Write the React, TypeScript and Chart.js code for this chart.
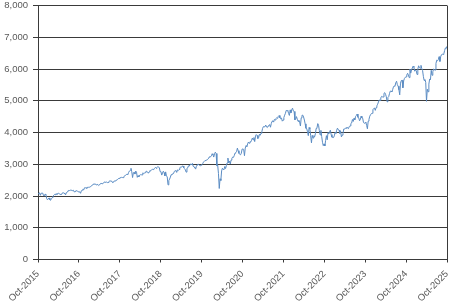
import React, { useEffect, useRef } from "react";
import { Chart, registerables } from "chart.js";

Chart.register(...registerables);

// Weekly S&P 500 closes, late Oct 2015 – early Oct 2025 (read/estimated from the picture)
const values2015: number[] = [2075, 2079, 2099, 2023, 2089, 2090, 2091, 2012, 2005, 2060, 2044];
const values2016: number[] = [
  1922, 1880, 1906, 1940, 1880, 1865, 1918, 1948, 1999, 2022, 2049, 2035, 2072, 2047, 2081, 2091, 2065,
  2057, 2046, 2052, 2099, 2099, 2096, 2071, 2037, 2103, 2130, 2162, 2175, 2173, 2183, 2184, 2184, 2169,
  2180, 2128, 2139, 2165, 2168, 2153, 2133, 2141, 2126, 2085, 2164, 2182, 2213, 2192, 2259, 2258, 2263, 2239,
];
const values2017: number[] = [
  2277, 2275, 2271, 2295, 2297, 2316, 2351, 2367, 2383, 2373, 2378, 2344, 2363, 2355, 2329, 2349, 2384,
  2399, 2391, 2382, 2416, 2439, 2432, 2433, 2438, 2423, 2425, 2459, 2473, 2472, 2477, 2441, 2426, 2443,
  2477, 2461, 2500, 2502, 2519, 2549, 2553, 2575, 2581, 2587, 2582, 2579, 2602, 2642, 2651, 2675, 2683, 2674,
];
const values2018: number[] = [
  2743, 2786, 2810, 2873, 2762, 2581, 2732, 2747, 2691, 2786, 2752, 2588, 2641, 2604, 2656, 2670, 2670,
  2663, 2728, 2713, 2721, 2735, 2779, 2780, 2755, 2718, 2760, 2801, 2801, 2819, 2840, 2833, 2850, 2875,
  2902, 2872, 2905, 2930, 2914, 2886, 2767, 2768, 2658, 2723, 2781, 2736, 2633, 2760, 2633, 2600, 2351, 2486,
];
const values2019: number[] = [
  2532, 2596, 2671, 2665, 2707, 2708, 2776, 2793, 2804, 2743, 2822, 2801, 2834, 2893, 2907, 2905, 2940,
  2946, 2881, 2860, 2826, 2752, 2873, 2887, 2950, 2942, 2990, 3014, 2977, 3026, 2932, 2919, 2889, 2847,
  2926, 2979, 3007, 2992, 2962, 2952, 2970, 2986, 3023, 3067, 3093, 3120, 3110, 3141, 3146, 3169, 3221, 3240,
];
const values2020: number[] = [
  3235, 3265, 3330, 3295, 3226, 3328, 3380, 3338, 2954, 2972, 2711, 2237, 2541, 2489, 2790, 2875, 2837,
  2831, 2930, 2864, 2955, 3044, 3194, 3041, 3098, 3009, 3130, 3185, 3225, 3216, 3271, 3351, 3373, 3397,
  3508, 3427, 3341, 3319, 3298, 3348, 3477, 3484, 3465, 3270, 3509, 3585, 3558, 3638, 3699, 3663, 3709, 3703,
];
const values2021: number[] = [
  3756, 3825, 3768, 3841, 3714, 3887, 3934, 3907, 3811, 3842, 3943, 3913, 3975, 4020, 4129, 4185, 4180,
  4181, 4233, 4174, 4156, 4204, 4230, 4247, 4166, 4281, 4352, 4370, 4327, 4412, 4395, 4437, 4468, 4442,
  4509, 4535, 4459, 4433, 4455, 4357, 4391, 4471, 4545, 4605, 4697, 4683, 4698, 4595, 4538, 4712, 4620,
  4725, 4766,
];
const values2022: number[] = [
  4677, 4663, 4398, 4432, 4500, 4419, 4349, 4385, 4329, 4204, 4463, 4543, 4546, 4488, 4393, 4272, 4132,
  4123, 4024, 3901, 4158, 4109, 3901, 3675, 3912, 3825, 3899, 3863, 3962, 4130, 4145, 4280, 4228, 4058,
  3924, 4067, 3873, 3693, 3586, 3640, 3577, 3752, 3901, 3771, 3993, 3965, 4026, 4072, 3934, 3852, 3845, 3840,
];
const values2023: number[] = [
  3895, 3999, 3973, 4071, 4136, 4090, 4079, 3970, 4046, 3862, 3917, 3971, 4109, 4105, 4138, 4133, 4169,
  4136, 4124, 4192, 4205, 4282, 4299, 4410, 4348, 4450, 4399, 4505, 4536, 4582, 4478, 4464, 4370, 4406,
  4516, 4457, 4450, 4320, 4288, 4308, 4327, 4224, 4117, 4358, 4415, 4514, 4559, 4595, 4604, 4719, 4755, 4770,
];
const values2024: number[] = [
  4697, 4784, 4840, 4891, 4959, 5027, 5006, 5089, 5137, 5124, 5117, 5234, 5254, 5204, 5123, 4967, 5100,
  5128, 5223, 5303, 5305, 5278, 5347, 5431, 5465, 5460, 5567, 5615, 5505, 5459, 5346, 5186, 5554, 5635,
  5648, 5408, 5626, 5703, 5738, 5751, 5815, 5865, 5808, 5729, 5995, 5870, 5969, 6032, 6090, 6051, 5931, 5971,
];
const values2025: number[] = [
  5942, 5827, 5997, 6101, 6041, 6026, 6115, 6013, 5955, 5770, 5639, 5668, 5581, 4982, 5363, 5283, 5525,
  5687, 5660, 5958, 5803, 5912, 6000, 5977, 5968, 6173, 6279, 6260, 6297, 6389, 6238, 6389, 6450, 6467,
  6460, 6482, 6584, 6664, 6644, 6716,
];

const tickLabels: string[] = [
  "Oct-2015", "Oct-2016", "Oct-2017", "Oct-2018", "Oct-2019", "Oct-2020",
  "Oct-2021", "Oct-2022", "Oct-2023", "Oct-2024", "Oct-2025",
];
const yMin = 0;
const yMax = 8000;
const yStep = 1000;

const allValues: number[] = [
  ...values2015, ...values2016, ...values2017, ...values2018, ...values2019, ...values2020,
  ...values2021, ...values2022, ...values2023, ...values2024, ...values2025,
];

export default function App() {
  const canvasRef = useRef<HTMLCanvasElement | null>(null);

  useEffect(() => {
    const canvas = canvasRef.current;
    if (!canvas) return;
    const n = allValues.length;
    const xMax = n - 1;
    const points = allValues.map((v, i) => ({ x: i, y: v }));
    const tickPositions = tickLabels.map((_, k) => (k * xMax) / (tickLabels.length - 1));

    const gridColor = "#3a3a3a";
    const labelColor = "#595959";

    const borderPlugin = {
      id: "rightBorder",
      afterDraw(chart: any) {
        const { ctx, chartArea } = chart;
        ctx.save();
        ctx.strokeStyle = gridColor;
        ctx.lineWidth = 1;
        ctx.beginPath();
        const x = Math.round(chartArea.right) + 0.5;
        ctx.moveTo(x, chartArea.top);
        ctx.lineTo(x, chartArea.bottom);
        ctx.stroke();
        ctx.restore();
      },
    };

    const chart = new Chart(canvas, {
      type: "line",
      data: {
        datasets: [
          {
            data: points,
            borderColor: "#5b8cc3",
            borderWidth: 1,
            pointRadius: 0,
            tension: 0,
            fill: false,
          },
        ],
      },
      options: {
        animation: false,
        responsive: false,
        maintainAspectRatio: false,
        layout: { padding: { top: 0, right: 6, left: 0, bottom: 0 } },
        plugins: { legend: { display: false }, tooltip: { enabled: false } },
        scales: {
          x: {
            type: "linear",
            min: 0,
            max: xMax,
            afterBuildTicks: (scale: any) => {
              scale.ticks = tickPositions.map((v) => ({ value: v }));
            },
            afterFit: (scale: any) => {
              scale.height = 44.5;
              scale.paddingRight = 0;
            },
            ticks: {
              autoSkip: false,
              minRotation: 45,
              maxRotation: 45,
              padding: 6,
              color: labelColor,
              font: { family: "Liberation Sans", size: 9.5 },
              callback: (_v: any, idx: number) => tickLabels[idx],
            },
            grid: {
              display: true,
              drawOnChartArea: false,
              drawTicks: true,
              tickLength: 3,
              color: gridColor,
            },
            border: { display: true, color: gridColor, width: 1 },
          },
          y: {
            min: yMin,
            max: yMax,
            afterFit: (scale: any) => {
              scale.width = 38;
              scale.paddingTop = 5.5;
              scale.paddingBottom = 0;
            },
            ticks: {
              stepSize: yStep,
              padding: 5,
              color: labelColor,
              font: { family: "Liberation Sans", size: 9.5 },
              callback: (v: any) => Number(v).toLocaleString("en-US"),
            },
            grid: { color: gridColor, lineWidth: 1, tickLength: 5, drawTicks: true },
            border: { display: true, color: gridColor, width: 1 },
          },
        },
      },
      plugins: [borderPlugin],
    });
    return () => chart.destroy();
  }, []);

  return (
    <div style={{ position: "fixed", left: 0, top: 0, width: 453, height: 304, background: "#fff" }}>
      <canvas ref={canvasRef} width={453} height={304} style={{ display: "block" }} />
    </div>
  );
}
